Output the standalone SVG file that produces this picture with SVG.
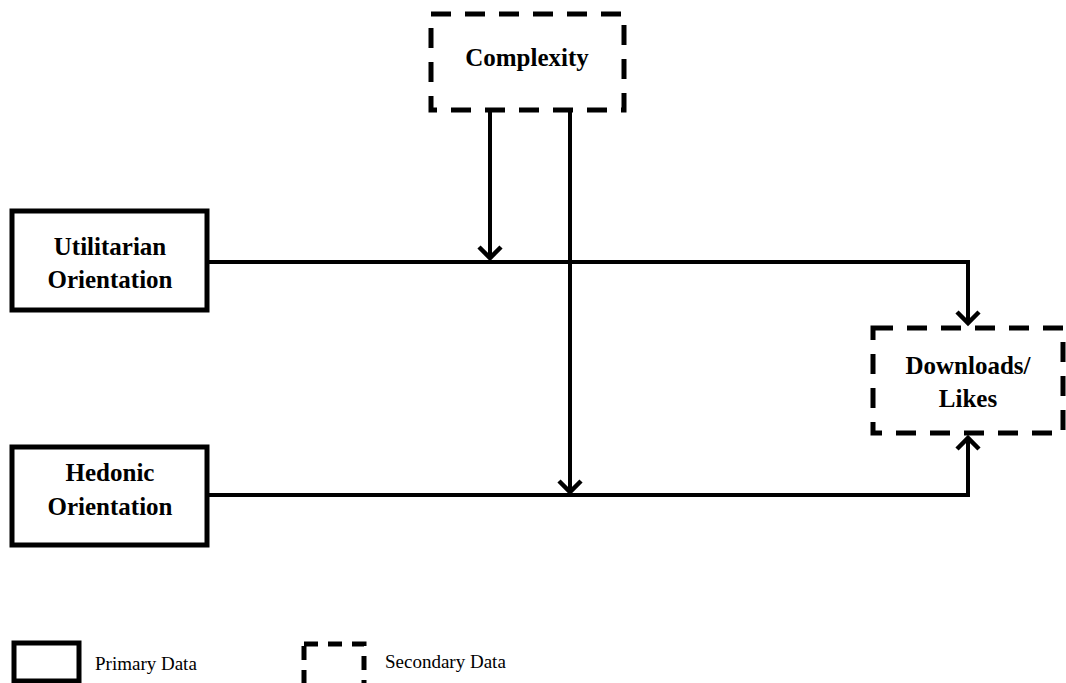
<svg xmlns="http://www.w3.org/2000/svg" width="1066" height="683" viewBox="0 0 1066 683">
<style>
.solid{fill:#fff;stroke:#000;stroke-width:5}
.dash{fill:#fff;stroke:#000;stroke-width:5;stroke-dasharray:20 14}
.lbl{font-family:"Liberation Serif",serif;font-weight:bold;font-size:25px;fill:#000;text-anchor:middle}
.leg{font-family:"Liberation Serif",serif;font-size:19px;fill:#000}
.conn{fill:none;stroke:#000;stroke-width:4}
</style>
<defs>
<marker id="arr" markerWidth="30" markerHeight="30" refX="15" refY="15" orient="auto" markerUnits="userSpaceOnUse">
<path d="M4,4 L15,15 L4,26" fill="none" stroke="#000" stroke-width="4.5"/>
</marker>
</defs>
<g id="connectors">
<path class="conn" d="M207,262 H968 V323" marker-end="url(#arr)"/>
<path class="conn" d="M207,495 H968 V438" marker-end="url(#arr)"/>
<path class="conn" d="M490,110 V258" marker-end="url(#arr)"/>
<path class="conn" d="M570,110 V492" marker-end="url(#arr)"/>
</g>
<g id="complexity">
<rect class="dash" x="431" y="14" width="193" height="96"/>
<text class="lbl" x="527" y="66">Complexity</text>
</g>
<g id="utilitarian">
<rect class="solid" x="12" y="211" width="195" height="99"/>
<text class="lbl" x="110" y="255">Utilitarian</text>
<text class="lbl" x="110" y="288">Orientation</text>
</g>
<g id="hedonic">
<rect class="solid" x="12" y="447" width="195" height="98"/>
<text class="lbl" x="110" y="481">Hedonic</text>
<text class="lbl" x="110" y="515">Orientation</text>
</g>
<g id="downloads">
<rect class="dash" x="873" y="328" width="190" height="105"/>
<text class="lbl" x="968" y="374">Downloads/</text>
<text class="lbl" x="968" y="407">Likes</text>
</g>
<g id="legend">
<rect class="solid" x="14" y="643" width="65" height="38"/>
<text class="leg" x="95" y="670">Primary Data</text>
<rect class="dash" x="304" y="644" width="60" height="44" style="stroke-dasharray:14 10"/>
<text class="leg" x="385" y="668">Secondary Data</text>
</g>
</svg>
